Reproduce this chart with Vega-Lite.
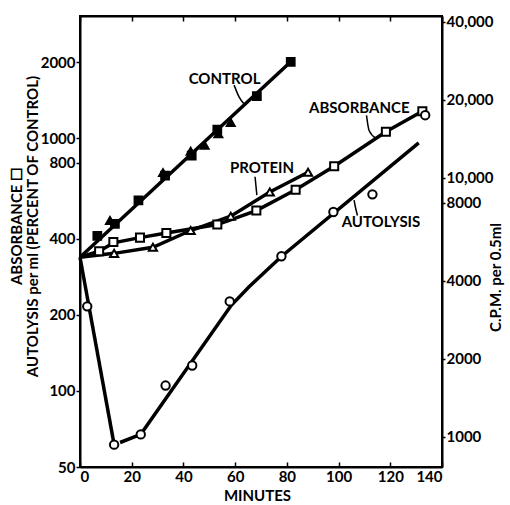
{
  "$schema": "https://vega.github.io/schema/vega-lite/v6.json",
  "width": 362,
  "height": 451,
  "autosize": {"type": "none"},
  "padding": {"left": 80, "top": 16, "right": 68, "bottom": 38},
  "background": "white",
  "config": {
    "view": {"stroke": "black", "strokeWidth": 2},
    "axis": {
      "grid": false,
      "domainColor": "black",
      "domainWidth": 2,
      "tickColor": "black",
      "tickWidth": 1.5,
      "labelColor": "black",
      "labelFont": "Lato",
      "labelFontWeight": "bold",
      "labelFontSize": 15,
      "titleFont": "Lato",
      "titleFontWeight": "bold",
      "titleFontSize": 15,
      "titleColor": "black"
    }
  },
  "datasets": {
    "lines": [
      {"series": "control", "segment": "c", "minute": 0, "value": 338},
      {"series": "control", "segment": "c", "minute": 81.5, "value": 2004},
      {"series": "absorbance", "segment": "a", "minute": 0, "value": 338},
      {"series": "absorbance", "segment": "a", "minute": 7.4, "value": 357},
      {"series": "absorbance", "segment": "a", "minute": 12.9, "value": 385},
      {"series": "absorbance", "segment": "a", "minute": 23.2, "value": 404},
      {"series": "absorbance", "segment": "a", "minute": 33.4, "value": 421},
      {"series": "absorbance", "segment": "a", "minute": 53.1, "value": 455},
      {"series": "absorbance", "segment": "a", "minute": 68.2, "value": 517},
      {"series": "absorbance", "segment": "a", "minute": 83.4, "value": 625},
      {"series": "absorbance", "segment": "a", "minute": 98.3, "value": 774},
      {"series": "absorbance", "segment": "a", "minute": 118.3, "value": 1059},
      {"series": "absorbance", "segment": "a", "minute": 132.4, "value": 1277},
      {"series": "protein", "segment": "p", "minute": 0, "value": 338},
      {"series": "protein", "segment": "p", "minute": 13.2, "value": 350},
      {"series": "protein", "segment": "p", "minute": 28.2, "value": 370},
      {"series": "protein", "segment": "p", "minute": 42.8, "value": 431},
      {"series": "protein", "segment": "p", "minute": 58.3, "value": 491},
      {"series": "protein", "segment": "p", "minute": 73.4, "value": 612},
      {"series": "protein", "segment": "p", "minute": 88.2, "value": 733},
      {"series": "autolysis", "segment": "u1", "minute": 0, "value": 338},
      {"series": "autolysis", "segment": "u1", "minute": 13.2, "value": 61.3},
      {"series": "autolysis", "segment": "u2", "minute": 15.5, "value": 62.5},
      {"series": "autolysis", "segment": "u2", "minute": 23.5, "value": 67.3},
      {"series": "autolysis", "segment": "u2", "minute": 58.5, "value": 218},
      {"series": "autolysis", "segment": "u2", "minute": 65.4, "value": 258},
      {"series": "autolysis", "segment": "u2", "minute": 78, "value": 341},
      {"series": "autolysis", "segment": "u2", "minute": 131, "value": 957}
    ],
    "points": [
      {"series": "control square", "minute": 6.7, "value": 410},
      {"series": "control square", "minute": 13.5, "value": 458},
      {"series": "control square", "minute": 22.6, "value": 567},
      {"series": "control square", "minute": 32.9, "value": 711},
      {"series": "control square", "minute": 43.2, "value": 853},
      {"series": "control square", "minute": 53.1, "value": 1081},
      {"series": "control square", "minute": 68.4, "value": 1465},
      {"series": "control square", "minute": 81.5, "value": 2004},
      {"series": "control triangle", "minute": 11.6, "value": 472},
      {"series": "control triangle", "minute": 32.1, "value": 730},
      {"series": "control triangle", "minute": 42.8, "value": 887},
      {"series": "control triangle", "minute": 48.2, "value": 937},
      {"series": "control triangle", "minute": 53.5, "value": 1040},
      {"series": "control triangle", "minute": 58.3, "value": 1153},
      {"series": "absorbance", "minute": 7.4, "value": 357},
      {"series": "absorbance", "minute": 12.9, "value": 388},
      {"series": "absorbance", "minute": 23.2, "value": 404},
      {"series": "absorbance", "minute": 33.4, "value": 421},
      {"series": "absorbance", "minute": 53.1, "value": 455},
      {"series": "absorbance", "minute": 68.2, "value": 517},
      {"series": "absorbance", "minute": 83.4, "value": 625},
      {"series": "absorbance", "minute": 98.3, "value": 774},
      {"series": "absorbance", "minute": 118.3, "value": 1059},
      {"series": "absorbance", "minute": 132.4, "value": 1277},
      {"series": "protein", "minute": 13.2, "value": 350},
      {"series": "protein", "minute": 28.2, "value": 370},
      {"series": "protein", "minute": 42.8, "value": 431},
      {"series": "protein", "minute": 58.3, "value": 491},
      {"series": "protein", "minute": 73.4, "value": 612},
      {"series": "protein", "minute": 88.2, "value": 733},
      {"series": "autolysis", "minute": 2.8, "value": 216},
      {"series": "autolysis", "minute": 13.2, "value": 61.3},
      {"series": "autolysis", "minute": 23.5, "value": 67.3},
      {"series": "autolysis", "minute": 33.1, "value": 105},
      {"series": "autolysis", "minute": 43.4, "value": 126},
      {"series": "autolysis", "minute": 57.9, "value": 226},
      {"series": "autolysis", "minute": 77.9, "value": 341},
      {"series": "autolysis", "minute": 98, "value": 510},
      {"series": "autolysis", "minute": 113.1, "value": 599},
      {"series": "autolysis", "minute": 133.5, "value": 1232}
    ],
    "labels": [
      {"label": "CONTROL", "minute": 55.9, "value": 1721},
      {"label": "PROTEIN", "minute": 70.4, "value": 760},
      {"label": "ABSORBANCE", "minute": 108, "value": 1319},
      {"label": "AUTOLYSIS", "minute": 116.4, "value": 466}
    ],
    "leaders": [
      {"leader": "control", "minute": 59.6, "value": 1620},
      {"leader": "control", "minute": 61.5, "value": 1457},
      {"leader": "control", "minute": 63.4, "value": 1368},
      {"leader": "protein", "minute": 67.7, "value": 703},
      {"leader": "protein", "minute": 68.4, "value": 595},
      {"leader": "absorbance", "minute": 110.8, "value": 1230},
      {"leader": "absorbance", "minute": 111.8, "value": 1072},
      {"leader": "absorbance", "minute": 114.4, "value": 1000},
      {"leader": "autolysis", "minute": 106.0, "value": 568},
      {"leader": "autolysis", "minute": 106.4, "value": 540},
      {"leader": "autolysis", "minute": 107.3, "value": 494}
    ],
    "cpm": [
      {"minute": 0, "cpm": 1000}
    ]
  },
  "layer": [
    {
      "encoding": {
        "x": {
          "field": "minute",
          "type": "quantitative",
          "scale": {"domain": [0, 140], "nice": false},
          "axis": {
            "orient": "bottom",
            "values": [0, 20, 40, 60, 80, 100, 120, 140],
            "tickSize": -5,
            "labelPadding": 7,
            "title": "MINUTES",
            "titleX": 177,
            "titleY": 28,
            "titleBaseline": "middle"
          }
        },
        "y": {
          "field": "value",
          "type": "quantitative",
          "scale": {"type": "log", "domain": [50, 3041], "nice": false},
          "axis": {
            "orient": "left",
            "values": [50, 100, 200, 400, 800, 1000, 2000],
            "format": "d",
            "tickSize": 4,
            "labelPadding": 1,
            "title": ["ABSORBANCE ☐", "AUTOLYSIS per ml (PERCENT OF CONTROL)"],
            "titleAngle": 270,
            "titleX": -64,
            "titleY": 210,
            "titleAlign": "center",
            "titleBaseline": "middle",
            "titleLineHeight": 16
          }
        }
      },
      "layer": [
        {
          "data": {"name": "lines"},
          "mark": {"type": "line", "color": "black", "strokeWidth": 3.5},
          "encoding": {"detail": {"field": "segment"}}
        },
        {
          "data": {"name": "leaders"},
          "mark": {"type": "line", "color": "black", "strokeWidth": 1.5, "interpolate": "monotone"},
          "encoding": {"detail": {"field": "leader"}}
        },
        {
          "data": {"name": "points"},
          "mark": {"type": "point", "stroke": "black", "strokeWidth": 2, "opacity": 1, "filled": false},
          "encoding": {
            "shape": {
              "field": "series",
              "type": "nominal",
              "scale": {
                "domain": ["control square", "control triangle", "absorbance", "protein", "autolysis"],
                "range": ["square", "triangle-up", "square", "triangle-up", "circle"]
              },
              "legend": null
            },
            "fill": {
              "field": "series",
              "type": "nominal",
              "scale": {
                "domain": ["control square", "control triangle", "absorbance", "protein", "autolysis"],
                "range": ["black", "black", "white", "white", "white"]
              },
              "legend": null
            },
            "size": {
              "field": "series",
              "type": "nominal",
              "scale": {
                "domain": ["control square", "control triangle", "absorbance", "protein", "autolysis"],
                "range": [60, 70, 40, 45, 35]
              },
              "legend": null
            }
          }
        },
        {
          "data": {"name": "labels"},
          "mark": {"type": "text", "font": "Lato", "fontWeight": "bold", "fontSize": 15, "color": "black", "align": "center", "baseline": "middle"},
          "encoding": {"text": {"field": "label"}}
        }
      ]
    },
    {
      "data": {"name": "cpm"},
      "mark": {"type": "point", "opacity": 0},
      "encoding": {
        "x": {
          "field": "minute",
          "type": "quantitative",
          "scale": {"domain": [0, 140], "nice": false},
          "axis": {
            "orient": "top",
            "values": [0, 20, 40, 60, 80, 100, 120, 140],
            "tickSize": -5,
            "labels": false,
            "title": null
          }
        },
        "y": {
          "field": "cpm",
          "type": "quantitative",
          "scale": {"type": "log", "domain": [764, 42060], "nice": false},
          "axis": {
            "orient": "right",
            "values": [1000, 2000, 4000, 8000, 10000, 20000, 40000],
            "labelExpr": "datum.value >= 10000 ? format(datum.value, ',') : format(datum.value, 'd')",
            "tickSize": 3,
            "labelPadding": 1,
            "title": "C.P.M. per 0.5ml",
            "titleAngle": 270,
            "titleX": 53,
            "titleY": 261,
            "titleAlign": "center",
            "titleBaseline": "middle"
          }
        }
      }
    }
  ],
  "resolve": {"scale": {"y": "independent"}, "axis": {"x": "independent"}}
}
